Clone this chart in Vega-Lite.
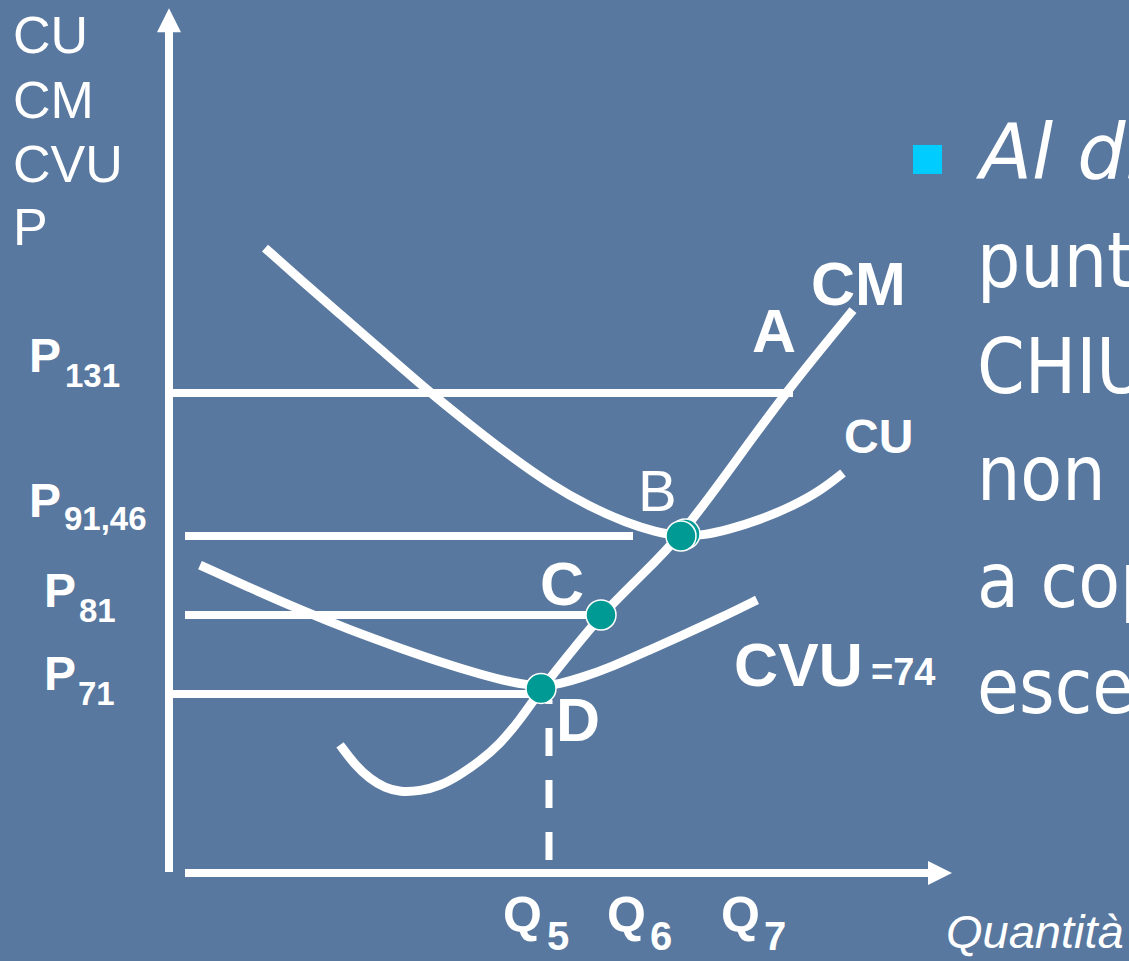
{
  "$schema": "https://vega.github.io/schema/vega-lite/v6.json",
  "width": 1129,
  "height": 961,
  "autosize": {"type": "none"},
  "padding": 0,
  "background": "#58789F",
  "config": {"view": {"stroke": null}},
  "datasets": {
    "segments": [
      {"name": "asse costi", "q": 0, "p": 0.4, "q2": 0, "p2": 231.4},
      {"name": "asse quantità", "q": 1.6, "p": 0, "q2": 76, "p2": 0},
      {"name": "P131", "q": 0, "p": 131, "q2": 62.4, "p2": 131},
      {"name": "P91,46", "q": 1.6, "p": 91.46, "q2": 46.4, "p2": 91.46},
      {"name": "P81", "q": 1.6, "p": 81, "q2": 42.0, "p2": 81},
      {"name": "P71", "q": 0, "p": 71, "q2": 37.2, "p2": 71}
    ],
    "q5": [
      {"name": "Q5", "q": 38.0, "p": 5.2, "q2": 38.0, "p2": 68.6}
    ],
    "arrowUp": [{"q": 0, "p": 234.1}],
    "arrowRight": [{"q": 77.1, "p": 0}],
    "curves": [
      {"curve": "CU", "q": 9.6, "p": 171.1},
      {"curve": "CU", "q": 13.1, "p": 162.5},
      {"curve": "CU", "q": 17.1, "p": 152.8},
      {"curve": "CU", "q": 21.1, "p": 143.2},
      {"curve": "CU", "q": 25.8, "p": 131.8},
      {"curve": "CU", "q": 30.1, "p": 122.2},
      {"curve": "CU", "q": 34.1, "p": 113.6},
      {"curve": "CU", "q": 38.1, "p": 105.8},
      {"curve": "CU", "q": 42.1, "p": 99.5},
      {"curve": "CU", "q": 45.8, "p": 95.05},
      {"curve": "CU", "q": 48.6, "p": 92.6},
      {"curve": "CU", "q": 51.2, "p": 91.4},
      {"curve": "CU", "q": 53.6, "p": 91.74},
      {"curve": "CU", "q": 55.8, "p": 93.1},
      {"curve": "CU", "q": 59.1, "p": 95.9},
      {"curve": "CU", "q": 62.4, "p": 99.8},
      {"curve": "CU", "q": 65.1, "p": 103.9},
      {"curve": "CU", "q": 67.4, "p": 108.9},
      {"curve": "CVU", "q": 3.1, "p": 87.6},
      {"curve": "CVU", "q": 8.1, "p": 84.6},
      {"curve": "CVU", "q": 13.1, "p": 81.7},
      {"curve": "CVU", "q": 18.1, "p": 79.1},
      {"curve": "CVU", "q": 23.1, "p": 76.8},
      {"curve": "CVU", "q": 27.1, "p": 75.05},
      {"curve": "CVU", "q": 31.1, "p": 73.5},
      {"curve": "CVU", "q": 34.1, "p": 72.5},
      {"curve": "CVU", "q": 37.2, "p": 71.9},
      {"curve": "CVU", "q": 39.1, "p": 72.3},
      {"curve": "CVU", "q": 41.1, "p": 73.0},
      {"curve": "CVU", "q": 44.4, "p": 74.5},
      {"curve": "CVU", "q": 48.1, "p": 76.6},
      {"curve": "CVU", "q": 51.1, "p": 78.3},
      {"curve": "CVU", "q": 55.1, "p": 80.6},
      {"curve": "CVU", "q": 58.8, "p": 83.0},
      {"curve": "CM", "q": 17.1, "p": 50.8},
      {"curve": "CM", "q": 18.6, "p": 42.8},
      {"curve": "CM", "q": 20.1, "p": 37.3},
      {"curve": "CM", "q": 21.6, "p": 33.7},
      {"curve": "CM", "q": 23.1, "p": 32.1},
      {"curve": "CM", "q": 25.1, "p": 32.5},
      {"curve": "CM", "q": 27.1, "p": 34.5},
      {"curve": "CM", "q": 29.1, "p": 38.9},
      {"curve": "CM", "q": 31.1, "p": 44.4},
      {"curve": "CM", "q": 33.1, "p": 51.2},
      {"curve": "CM", "q": 35.1, "p": 60.7},
      {"curve": "CM", "q": 37.2, "p": 71.6},
      {"curve": "CM", "q": 40.2, "p": 76.3},
      {"curve": "CM", "q": 43.2, "p": 81},
      {"curve": "CM", "q": 47.2, "p": 86.2},
      {"curve": "CM", "q": 51.2, "p": 91.46},
      {"curve": "CM", "q": 56.4, "p": 111.1},
      {"curve": "CM", "q": 61.6, "p": 131},
      {"curve": "CM", "q": 68.4, "p": 153.9}
    ],
    "dots": [
      {"punto": "B'", "q": 51.6, "p": 92.0},
      {"punto": "B", "q": 51.2, "p": 91.46},
      {"punto": "C", "q": 43.2, "p": 81},
      {"punto": "D", "q": 37.2, "p": 71.7}
    ],
    "axisTitle": [
      {"label": "CU", "q": -15.6, "p": 225.0},
      {"label": "CM", "q": -15.6, "p": 207.0},
      {"label": "CVU", "q": -15.6, "p": 189.3},
      {"label": "P", "q": -15.6, "p": 171.9}
    ],
    "priceP": [
      {"label": "P", "q": -14.0, "p": 136.8},
      {"label": "P", "q": -14.0, "p": 96.7},
      {"label": "P", "q": -12.5, "p": 82.1},
      {"label": "P", "q": -12.5, "p": 71.5}
    ],
    "priceSub": [
      {"label": "131", "q": -10.4, "p": 132.7},
      {"label": "91,46", "q": -10.5, "p": 93.1},
      {"label": "81", "q": -9.0, "p": 80.1},
      {"label": "71", "q": -9.1, "p": 66.6}
    ],
    "qLetters": [
      {"label": "Q", "q": 33.4, "p": -23.4},
      {"label": "Q", "q": 43.8, "p": -23.4},
      {"label": "Q", "q": 55.2, "p": -23.4}
    ],
    "qSub": [
      {"label": "5", "q": 37.8, "p": -30.5},
      {"label": "6", "q": 48.1, "p": -30.5},
      {"label": "7", "q": 59.5, "p": -30.5}
    ],
    "bigBold": [
      {"label": "CM", "q": 64.2, "p": 155.3},
      {"label": "A", "q": 58.3, "p": 142.3},
      {"label": "C", "q": 37.1, "p": 82.3},
      {"label": "D", "q": 38.7, "p": 52.4},
      {"label": "CVU", "q": 56.5, "p": 72.0}
    ],
    "cvuValue": [{"label": "=74", "q": 70.2, "p": 72.1}],
    "cuLabel": [{"label": "CU", "q": 67.5, "p": 114.4}],
    "bLabel": [{"label": "B", "q": 46.9, "p": 98.4}],
    "xTitle": [{"label": "Quantità", "q": 77.7, "p": -29.7}],
    "bullet": [{"q": 75.85, "p": 195.6}],
    "bodyItalic": [{"label": "Al di", "q": 81.1, "p": 190.4}],
    "body": [
      {"label": "punt", "q": 80.8, "p": 160.3},
      {"label": "CHIU", "q": 80.8, "p": 131},
      {"label": "non", "q": 80.8, "p": 101.4},
      {"label": "a cop", "q": 80.8, "p": 82.1},
      {"label": "esce", "q": 80.8, "p": 63.5}
    ]
  },
  "encoding": {
    "x": {
      "field": "q",
      "type": "quantitative",
      "scale": {"domain": [-16.9, 96], "nice": false, "zero": false},
      "axis": null
    },
    "y": {
      "field": "p",
      "type": "quantitative",
      "scale": {
        "domain": [-34.9, 0, 71, 81, 91.46, 131, 239.7],
        "range": [961, 873, 694, 615, 536, 393, 0],
        "nice": false,
        "zero": false
      },
      "axis": null
    }
  },
  "layer": [
    {
      "data": {"name": "segments"},
      "mark": {"type": "rule", "color": "white", "strokeWidth": 8, "strokeCap": "butt"},
      "encoding": {"x2": {"field": "q2"}, "y2": {"field": "p2"}}
    },
    {
      "data": {"name": "q5"},
      "mark": {"type": "rule", "color": "white", "strokeWidth": 7, "strokeCap": "butt", "strokeDash": [28, 24]},
      "encoding": {"x2": {"field": "q2"}, "y2": {"field": "p2"}}
    },
    {
      "data": {"name": "arrowUp"},
      "mark": {"type": "point", "shape": "M-1,1L0,-1L1,1Z", "size": 576, "filled": true, "color": "white", "opacity": 1}
    },
    {
      "data": {"name": "arrowRight"},
      "mark": {"type": "point", "shape": "M-1,-1L1,0L-1,1Z", "size": 576, "filled": true, "color": "white", "opacity": 1}
    },
    {
      "data": {"name": "curves"},
      "mark": {"type": "line", "color": "white", "strokeWidth": 9, "strokeCap": "butt", "interpolate": "basis"},
      "encoding": {"detail": {"field": "curve"}}
    },
    {
      "data": {"name": "dots"},
      "mark": {"type": "point", "shape": "circle", "size": 900, "filled": true, "fill": "#009A94", "stroke": "white", "strokeWidth": 1.5, "opacity": 1}
    },
    {
      "data": {"name": "axisTitle"},
      "mark": {"type": "text", "align": "left", "baseline": "alphabetic", "font": "Liberation Sans", "fontSize": 52, "color": "white"},
      "encoding": {"text": {"field": "label"}}
    },
    {
      "data": {"name": "priceP"},
      "mark": {"type": "text", "align": "left", "baseline": "alphabetic", "font": "Liberation Sans", "fontWeight": "bold", "fontSize": 48, "color": "white"},
      "encoding": {"text": {"field": "label"}}
    },
    {
      "data": {"name": "priceSub"},
      "mark": {"type": "text", "align": "left", "baseline": "alphabetic", "font": "Liberation Sans", "fontWeight": "bold", "fontSize": 33, "color": "white"},
      "encoding": {"text": {"field": "label"}}
    },
    {
      "data": {"name": "qLetters"},
      "mark": {"type": "text", "align": "left", "baseline": "alphabetic", "font": "Liberation Sans", "fontWeight": "bold", "fontSize": 50, "color": "white"},
      "encoding": {"text": {"field": "label"}}
    },
    {
      "data": {"name": "qSub"},
      "mark": {"type": "text", "align": "left", "baseline": "alphabetic", "font": "Liberation Sans", "fontWeight": "bold", "fontSize": 40, "color": "white"},
      "encoding": {"text": {"field": "label"}}
    },
    {
      "data": {"name": "bigBold"},
      "mark": {"type": "text", "align": "left", "baseline": "alphabetic", "font": "Liberation Sans", "fontWeight": "bold", "fontSize": 61, "color": "white"},
      "encoding": {"text": {"field": "label"}}
    },
    {
      "data": {"name": "cvuValue"},
      "mark": {"type": "text", "align": "left", "baseline": "alphabetic", "font": "Liberation Sans", "fontWeight": "bold", "fontSize": 38, "color": "white"},
      "encoding": {"text": {"field": "label"}}
    },
    {
      "data": {"name": "cuLabel"},
      "mark": {"type": "text", "align": "left", "baseline": "alphabetic", "font": "Liberation Sans", "fontWeight": "bold", "fontSize": 48, "color": "white"},
      "encoding": {"text": {"field": "label"}}
    },
    {
      "data": {"name": "bLabel"},
      "mark": {"type": "text", "align": "left", "baseline": "alphabetic", "font": "Liberation Sans", "fontSize": 58, "color": "white"},
      "encoding": {"text": {"field": "label"}}
    },
    {
      "data": {"name": "xTitle"},
      "mark": {"type": "text", "align": "left", "baseline": "alphabetic", "font": "Liberation Sans", "fontStyle": "italic", "fontSize": 47, "color": "white"},
      "encoding": {"text": {"field": "label"}}
    },
    {
      "data": {"name": "bullet"},
      "mark": {"type": "point", "shape": "square", "size": 841, "filled": true, "color": "#00CCFF", "opacity": 1}
    },
    {
      "data": {"name": "bodyItalic"},
      "mark": {"type": "text", "align": "left", "baseline": "alphabetic", "font": "DejaVu Sans", "fontStyle": "italic", "fontSize": 76, "color": "white"},
      "encoding": {"text": {"field": "label"}}
    },
    {
      "data": {"name": "body"},
      "mark": {"type": "text", "align": "left", "baseline": "alphabetic", "font": "DejaVu Sans Condensed, DejaVu Sans", "fontSize": 76, "color": "white"},
      "encoding": {"text": {"field": "label"}}
    }
  ]
}
